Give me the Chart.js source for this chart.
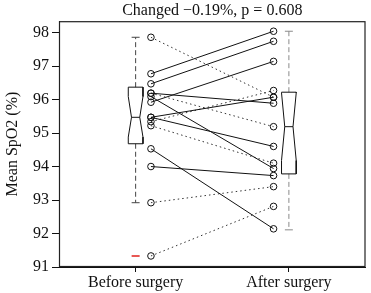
<!DOCTYPE html>
<html>
<head>
<meta charset="utf-8">
<script src="https://cdn.jsdelivr.net/npm/chart.js@4"></script>
<style>
  html, body { margin: 0; padding: 0; background: #fff; }
  #wrap { width: 371px; height: 293px; }
</style>
</head>
<body>
<div id="wrap"><canvas id="myChart"></canvas></div>
<script>
// data
var categories = ['Before surgery', 'After surgery'];
var beforeVals = [97.86, 96.77, 96.47, 96.19, 96.19, 96.09, 95.92, 95.47, 95.47, 95.34, 95.22, 94.53, 94.00, 92.92, 91.33];
var afterVals  = [96.07, 98.04, 97.74, 95.89, 95.19, 93.94, 97.14, 96.07, 94.60, 96.27, 94.10, 92.14, 93.73, 93.40, 92.81];
var pairGroup  = [2, 1, 1, 1, 2, 1, 1, 1, 1, 2, 2, 1, 1, 2, 2];   // 1 = solid, 2 = dotted
// box stats: min, q1, median, q3, max
var beforeBox = [92.92, 94.68, 95.47, 96.37, 97.86];
var beforeNotch = [94.88, 96.09];
var beforeOutliers = [91.33];
var afterBox = [92.11, 93.78, 95.19, 96.22, 98.04];
var afterNotch = [94.18, 96.20];
var yTicks = [91, 92, 93, 94, 95, 96, 97, 98];

var serif = "'Liberation Serif', 'DejaVu Serif', serif";
var xBefore = 1.1, xAfter = 1.9;
var halfW = 0.048, notchW = 0.027, capW = 0.026;

var datasets = [];

function boxSets(cx, box, notch, whiskerColor) {
    var poly = [
        {x: cx - halfW, y: box[3]}, {x: cx + halfW, y: box[3]},
        {x: cx + halfW, y: notch[1]}, {x: cx + notchW, y: box[2]},
        {x: cx + halfW, y: notch[0]}, {x: cx + halfW, y: box[1]},
        {x: cx - halfW, y: box[1]}, {x: cx - halfW, y: notch[0]},
        {x: cx - notchW, y: box[2]}, {x: cx - halfW, y: notch[1]},
        {x: cx - halfW, y: box[3]}
    ];
    var line = function (pts, color, dash) {
        return { type: 'line', data: pts, borderColor: color, borderWidth: 1,
                 borderDash: dash || [], pointRadius: 0, tension: 0, fill: false };
    };
    datasets.push(line(poly, '#111'));
    datasets.push(line([{x: cx - notchW, y: box[2]}, {x: cx + notchW, y: box[2]}], '#111'));
    datasets.push(line([{x: cx, y: box[3]}, {x: cx, y: box[4]}], whiskerColor, [5, 3]));
    datasets.push(line([{x: cx, y: box[1]}, {x: cx, y: box[0]}], whiskerColor, [5, 3]));
    datasets.push(line([{x: cx - capW, y: box[4]}, {x: cx + capW, y: box[4]}], whiskerColor));
    datasets.push(line([{x: cx - capW, y: box[0]}, {x: cx + capW, y: box[0]}], whiskerColor));
}

boxSets(1, beforeBox, beforeNotch, '#444');
boxSets(2, afterBox, afterNotch, '#8a8a8a');

datasets.push({
    type: 'scatter',
    data: beforeOutliers.map(function (v) { return {x: 1, y: v}; }),
    pointStyle: 'line', pointRadius: 4, borderColor: '#e0201b', borderWidth: 1.5
});

for (var i = 0; i < beforeVals.length; i++) {
    datasets.push({
        type: 'line',
        data: [{x: xBefore, y: beforeVals[i]}, {x: xAfter, y: afterVals[i]}],
        borderColor: pairGroup[i] === 1 ? '#111' : '#333',
        borderWidth: 1,
        borderDash: pairGroup[i] === 1 ? [] : [1.5, 3],
        pointRadius: 3.3,
        pointBorderWidth: 1,
        pointBorderColor: '#111',
        pointBackgroundColor: 'rgba(0,0,0,0)',
        tension: 0, fill: false
    });
}

var frame = {
    id: 'frame',
    afterDraw: function (chart) {
        var a = chart.chartArea, c = chart.ctx;
        c.save();
        c.strokeStyle = '#222';
        c.lineWidth = 1.2;
        c.strokeRect(a.left + 0.5, a.top + 0.5, a.right - a.left - 1, a.bottom - a.top - 1);
        c.restore();
    }
};

var ctx = document.getElementById('myChart').getContext('2d');
var myChart = new Chart(ctx, {
    data: { datasets: datasets },
    plugins: [frame],
    options: {
        responsive: true,
        maintainAspectRatio: false,
        animation: false,
        layout: { padding: { left: 0, right: 0, top: 0, bottom: 0 } },
        plugins: {
            legend: { display: false },
            tooltip: { enabled: false },
            title: {
                display: true,
                fullSize: false,
                text: 'Changed \u22120.19%, p = 0.608',
                color: '#111',
                font: { family: serif, size: 16, weight: 'normal', lineHeight: 1.2 },
                padding: { top: 1, bottom: 1 }
            }
        },
        scales: {
            x: {
                type: 'linear',
                min: 0.5, max: 2.5,
                afterBuildTicks: function (scale) { scale.ticks = [{value: 1}, {value: 2}]; },
                afterFit: function (scale) { scale.height = 26; },
                ticks: {
                    autoSkip: false, maxRotation: 0, padding: 1,
                    color: '#111',
                    font: { family: serif, size: 16 },
                    callback: function (v) { return categories[v - 1]; }
                },
                grid: { drawOnChartArea: false, tickLength: 5, color: '#111' },
                border: { display: true, color: '#111' }
            },
            y: {
                type: 'linear',
                min: 91, max: 98.34,
                afterBuildTicks: function (scale) { scale.ticks = yTicks.map(function (v) { return {value: v}; }); },
                afterFit: function (scale) { scale.width = 59; },
                ticks: { color: '#111', padding: 3, font: { family: serif, size: 16 } },
                grid: { drawOnChartArea: false, tickLength: 7, color: '#111' },
                border: { display: true, color: '#111' },
                title: {
                    display: true,
                    text: 'Mean SpO2 (%)',
                    color: '#111',
                    font: { family: serif, size: 16 },
                    padding: { top: 3, bottom: 0 }
                }
            }
        }
    }
});
</script>
</body>
</html>
